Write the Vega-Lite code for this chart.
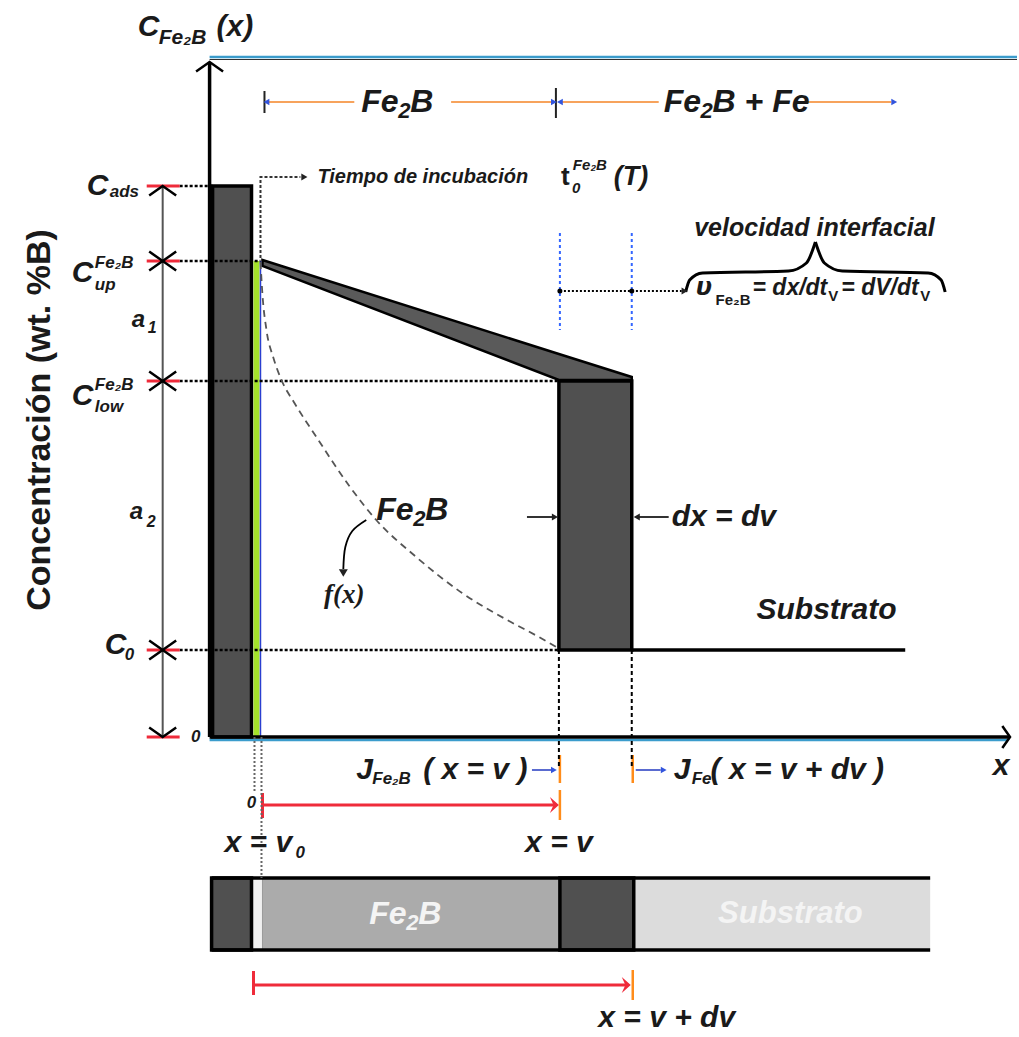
{
  "$schema": "https://vega.github.io/schema/vega-lite/v6.json",
  "width": 1019,
  "height": 1037,
  "padding": 0,
  "autosize": {"type": "fit", "contains": "padding"},
  "background": "white",
  "config": {"view": {"stroke": null}},
  "datasets": {
    "barLight": [{"x": 425, "y": -141, "x2": 722, "y2": -213}],
    "barStrip": [{"x": 42, "y": -141, "x2": 53, "y2": -213}],
    "barGray": [{"x": 53, "y": -141, "x2": 351, "y2": -213}],
    "dark": [
      {"x": 3, "y": 0, "x2": 42, "y2": 551},
      {"x": 350, "y": 87, "x2": 423, "y2": 356},
      {"x": 2, "y": -141, "x2": 42, "y2": -213},
      {"x": 351, "y": -141, "x2": 425, "y2": -213}
    ],
    "green": [{"x": 44, "y": 0, "x2": 50, "y2": 476}],
    "band": [
      {"x": 53, "y": 477, "y2": 471},
      {"x": 350, "y": 383, "y2": 357},
      {"x": 423, "y": 360, "y2": 357}
    ],
    "blueLine": [{"x": 51, "y": 0, "x2": 51, "y2": 476}],
    "dottedH": [
      {"x": -30, "y": 551, "x2": 3, "y2": 551},
      {"x": -30, "y": 476, "x2": 51, "y2": 476},
      {"x": -30, "y": 356, "x2": 350, "y2": 356},
      {"x": -30, "y": 87, "x2": 350, "y2": 87}
    ],
    "teal": [
      {"x": 0, "y": 680, "x2": 809, "y2": 680},
      {"x": 0, "y": -3, "x2": 800, "y2": -3}
    ],
    "thinBlack": [{"x": 0, "y": 677.5, "x2": 809, "y2": 677.5}],
    "axes": [
      {"x": 0, "y": 0, "x2": 0, "y2": 675},
      {"x": 0, "y": 0, "x2": 802, "y2": 0},
      {"x": 423, "y": 87, "x2": 697, "y2": 87},
      {"x": 2, "y": -141, "x2": 722, "y2": -141},
      {"x": 2, "y": -213, "x2": 722, "y2": -213}
    ],
    "red": [
      {"x": -63, "y": 551, "x2": -30, "y2": 551},
      {"x": -63, "y": 476, "x2": -30, "y2": 476},
      {"x": -63, "y": 356, "x2": -30, "y2": 356},
      {"x": -63, "y": 87, "x2": -30, "y2": 87},
      {"x": -63, "y": 0, "x2": -30, "y2": 0},
      {"x": 53, "y": -68, "x2": 345, "y2": -68},
      {"x": 53, "y": -56, "x2": 53, "y2": -81},
      {"x": 44, "y": -248, "x2": 418, "y2": -248},
      {"x": 44, "y": -234, "x2": 44, "y2": -258}
    ],
    "orangeTicks": [
      {"x": 351, "y": -18, "x2": 351, "y2": -46},
      {"x": 424, "y": -18, "x2": 424, "y2": -46},
      {"x": 351, "y": -53, "x2": 351, "y2": -83},
      {"x": 424, "y": -233, "x2": 424, "y2": -263}
    ],
    "orangeTop": [
      {"x": 58, "y": 635, "x2": 145, "y2": 635},
      {"x": 242, "y": 635, "x2": 344, "y2": 635},
      {"x": 352, "y": 635, "x2": 450, "y2": 635},
      {"x": 598, "y": 635, "x2": 683, "y2": 635}
    ],
    "blackTicks": [
      {"x": 55, "y": 646, "x2": 55, "y2": 624},
      {"x": 347, "y": 649, "x2": 347, "y2": 619}
    ],
    "dim": [{"x": -47, "y": 0, "x2": -47, "y2": 551}],
    "dashedV": [
      {"x": 350, "y": 87, "x2": 350, "y2": -30},
      {"x": 423, "y": 87, "x2": 423, "y2": -30}
    ],
    "grayDotV": [
      {"x": 45, "y": 0, "x2": 45, "y2": -55},
      {"x": 52, "y": 0, "x2": 52, "y2": -141}
    ],
    "blueDot": [
      {"x": 351, "y": 504, "x2": 351, "y2": 407},
      {"x": 423, "y": 504, "x2": 423, "y2": 407}
    ],
    "blackDotArrow": [{"x": 351, "y": 446, "x2": 473, "y2": 446}],
    "grayArrows": [
      {"x": 318, "y": 220, "x2": 344, "y2": 220},
      {"x": 460, "y": 220, "x2": 430, "y2": 220}
    ],
    "blueArrows": [
      {"x": 323, "y": -33, "x2": 343, "y2": -33},
      {"x": 427, "y": -33, "x2": 452, "y2": -33}
    ],
    "curve": [
      {"x": 51, "y": 475}, {"x": 53, "y": 442}, {"x": 57, "y": 407},
      {"x": 64, "y": 379}, {"x": 72, "y": 357}, {"x": 85, "y": 334},
      {"x": 107, "y": 300}, {"x": 140, "y": 251}, {"x": 167, "y": 217},
      {"x": 207, "y": 180}, {"x": 253, "y": 144}, {"x": 300, "y": 116},
      {"x": 330, "y": 100}, {"x": 349, "y": 89}
    ],
    "tiempoPath": [
      {"o": 1, "x": 51, "y": 479},
      {"o": 2, "x": 51, "y": 560},
      {"o": 3, "x": 91, "y": 560}
    ],
    "brace": [
      {"g": "L", "o": 1, "x": 477, "y": 445},
      {"g": "L", "o": 2, "x": 481, "y": 457},
      {"g": "L", "o": 3, "x": 494, "y": 464},
      {"g": "L", "o": 4, "x": 580, "y": 466},
      {"g": "L", "o": 5, "x": 598, "y": 474},
      {"g": "L", "o": 6, "x": 607, "y": 495},
      {"g": "R", "o": 1, "x": 607, "y": 495},
      {"g": "R", "o": 2, "x": 616, "y": 474},
      {"g": "R", "o": 3, "x": 634, "y": 466},
      {"g": "R", "o": 4, "x": 720, "y": 464},
      {"g": "R", "o": 5, "x": 733, "y": 457},
      {"g": "R", "o": 6, "x": 737, "y": 445}
    ],
    "fxArrow": [
      {"o": 1, "x": 157, "y": 217},
      {"o": 2, "x": 143, "y": 206},
      {"o": 3, "x": 136, "y": 190},
      {"o": 4, "x": 134, "y": 168}
    ],
    "chevUp": [
      {"x": -47, "y": 551}, {"x": -47, "y": 476}, {"x": -47, "y": 356},
      {"x": -47, "y": 87}, {"x": 0, "y": 675}
    ],
    "chevDown": [
      {"x": -47, "y": 476}, {"x": -47, "y": 356}, {"x": -47, "y": 87}, {"x": -47, "y": 0}
    ],
    "chevRight": [{"x": 802, "y": 0}],
    "blueTriR": [{"x": 345, "y": 635}, {"x": 686, "y": 635}, {"x": 345, "y": -33}, {"x": 455, "y": -33}],
    "blueTriL": [{"x": 57, "y": 635}, {"x": 351, "y": 635}],
    "blackTriR": [{"x": 95, "y": 560}, {"x": 476, "y": 446}, {"x": 346, "y": 220}],
    "blackTriL": [{"x": 428, "y": 220}],
    "blackTriD": [{"x": 134, "y": 164}],
    "redHead": [{"x": 350, "y": -68}, {"x": 422, "y": -248}],
    "dots": [{"x": 351, "y": 446}, {"x": 423, "y": 446}],
    "textL30": [
      {"x": -72, "y": 710, "t": "C"},
      {"x": 7, "y": 710, "t": "(x)"},
      {"x": -123, "y": 551, "t": "C"},
      {"x": -138, "y": 464, "t": "C"},
      {"x": -138, "y": 341, "t": "C"},
      {"x": -105, "y": 92, "t": "C"},
      {"x": 463, "y": 220, "t": "dx = dv"},
      {"x": 548, "y": 127, "t": "Substrato"},
      {"x": 147, "y": -33, "t": "J"},
      {"x": 214, "y": -33, "t": "( x = v )"},
      {"x": 465, "y": -33, "t": "J"},
      {"x": 502, "y": -33, "t": "( x = v + dv )"},
      {"x": 15, "y": -106, "t": "x = v"}
    ],
    "textC30": [
      {"x": 350, "y": -106, "t": "x = v"},
      {"x": 458, "y": -281, "t": "x = v + dv"},
      {"x": 793, "y": -29, "t": "x"}
    ],
    "feBig": [
      {"x": 152, "y": 635, "t": "Fe"},
      {"x": 201, "y": 635, "t": "B"},
      {"x": 455, "y": 635, "t": "Fe"},
      {"x": 504, "y": 635, "t": "B + Fe"},
      {"x": 167, "y": 227, "t": "Fe"},
      {"x": 216, "y": 227, "t": "B"}
    ],
    "twoBig": [
      {"x": 189, "y": 626, "t": "2"},
      {"x": 492, "y": 626, "t": "2"},
      {"x": 204, "y": 218, "t": "2"}
    ],
    "barFe": [{"x": 160, "y": -177, "t": "Fe"}, {"x": 209, "y": -177, "t": "B"}],
    "barTwo": [{"x": 197, "y": -186, "t": "2"}],
    "titleSub": [{"x": -51, "y": 699, "t": "Fe₂B"}],
    "textSub": [
      {"x": -100, "y": 545, "t": "ads"},
      {"x": -85, "y": 82, "t": "0"},
      {"x": 86, "y": -116, "t": "0"},
      {"x": -115, "y": 474, "t": "Fe₂B"},
      {"x": -115, "y": 452, "t": "up"},
      {"x": -115, "y": 352, "t": "Fe₂B"},
      {"x": -115, "y": 330, "t": "low"},
      {"x": 163, "y": -42, "t": "Fe₂B"},
      {"x": 483, "y": -42, "t": "Fe"}
    ],
    "textA": [{"x": -78, "y": 417, "t": "a"}, {"x": -80, "y": 225, "t": "a"}],
    "textASub": [{"x": -62, "y": 409, "t": "1"}, {"x": -63, "y": 215, "t": "2"}],
    "tiempo": [{"x": 108, "y": 560, "t": "Tiempo de incubación"}],
    "tBig": [{"x": 352, "y": 560, "t": "t"}],
    "tSmall": [{"x": 363, "y": 549, "t": "0"}, {"x": 364, "y": 572, "t": "Fe₂B"}],
    "tT": [{"x": 405, "y": 560, "t": "(T)"}],
    "velocidad": [{"x": 606, "y": 509, "t": "velocidad interfacial"}],
    "upsilon": [{"x": 487, "y": 449, "t": "υ"}],
    "formSub": [{"x": 507, "y": 437, "t": "Fe₂B"}, {"x": 620, "y": 441, "t": "V"}, {"x": 712, "y": 441, "t": "V"}],
    "formMain": [{"x": 544, "y": 449, "t": "= dx/dt"}, {"x": 633, "y": 449, "t": "= dV/dt"}],
    "fx": [{"x": 135, "y": 142, "t": "f(x)"}],
    "zeros": [{"x": -14, "y": 0, "t": "0"}, {"x": 42, "y": -66, "t": "0"}],
    "ytitle": [{"x": -170, "y": 317, "t": "Concentración (wt. %B)"}],
    "barText": [{"x": 582, "y": -177, "t": "Substrato"}]
  },
  "encoding": {
    "x": {"field": "x", "type": "quantitative", "scale": {"domain": [-210, 809], "nice": false, "zero": false}, "axis": null},
    "y": {"field": "y", "type": "quantitative", "scale": {"domain": [-300, 737], "nice": false, "zero": false}, "axis": null}
  },
  "layer": [
    {"data": {"name": "barLight"}, "mark": {"type": "rect", "fill": "#dcdcdc"}, "encoding": {"x2": {"field": "x2"}, "y2": {"field": "y2"}}},
    {"data": {"name": "barStrip"}, "mark": {"type": "rect", "fill": "#f0f0f0", "stroke": "#888", "strokeWidth": 1}, "encoding": {"x2": {"field": "x2"}, "y2": {"field": "y2"}}},
    {"data": {"name": "barGray"}, "mark": {"type": "rect", "fill": "#ababab"}, "encoding": {"x2": {"field": "x2"}, "y2": {"field": "y2"}}},
    {"data": {"name": "dark"}, "mark": {"type": "rect", "fill": "#505050", "stroke": "black", "strokeWidth": 3.5}, "encoding": {"x2": {"field": "x2"}, "y2": {"field": "y2"}}},
    {"data": {"name": "green"}, "mark": {"type": "rect", "fill": "#a4e22a"}, "encoding": {"x2": {"field": "x2"}, "y2": {"field": "y2"}}},
    {"data": {"name": "band"}, "mark": {"type": "area", "fill": "#5a5a5a", "stroke": "black", "strokeWidth": 2.5, "interpolate": "linear"}, "encoding": {"y2": {"field": "y2"}}},
    {"data": {"name": "blueLine"}, "mark": {"type": "rule", "color": "#2a3fd0", "strokeWidth": 1.5}, "encoding": {"x2": {"field": "x2"}, "y2": {"field": "y2"}}},
    {"data": {"name": "dottedH"}, "mark": {"type": "rule", "color": "black", "strokeWidth": 2.5, "strokeDash": [3, 2]}, "encoding": {"x2": {"field": "x2"}, "y2": {"field": "y2"}}},
    {"data": {"name": "teal"}, "mark": {"type": "rule", "color": "#3b9ccc", "strokeWidth": 2.5}, "encoding": {"x2": {"field": "x2"}, "y2": {"field": "y2"}}},
    {"data": {"name": "thinBlack"}, "mark": {"type": "rule", "color": "#333", "strokeWidth": 1.2}, "encoding": {"x2": {"field": "x2"}, "y2": {"field": "y2"}}},
    {"data": {"name": "axes"}, "mark": {"type": "rule", "color": "black", "strokeWidth": 3.5}, "encoding": {"x2": {"field": "x2"}, "y2": {"field": "y2"}}},
    {"data": {"name": "red"}, "mark": {"type": "rule", "color": "#ef2b3a", "strokeWidth": 3}, "encoding": {"x2": {"field": "x2"}, "y2": {"field": "y2"}}},
    {"data": {"name": "orangeTicks"}, "mark": {"type": "rule", "color": "#ff8c1a", "strokeWidth": 2.5}, "encoding": {"x2": {"field": "x2"}, "y2": {"field": "y2"}}},
    {"data": {"name": "orangeTop"}, "mark": {"type": "rule", "color": "#f7a35c", "strokeWidth": 2}, "encoding": {"x2": {"field": "x2"}, "y2": {"field": "y2"}}},
    {"data": {"name": "blackTicks"}, "mark": {"type": "rule", "color": "#222", "strokeWidth": 2}, "encoding": {"x2": {"field": "x2"}, "y2": {"field": "y2"}}},
    {"data": {"name": "dim"}, "mark": {"type": "rule", "color": "#555", "strokeWidth": 2}, "encoding": {"x2": {"field": "x2"}, "y2": {"field": "y2"}}},
    {"data": {"name": "dashedV"}, "mark": {"type": "rule", "color": "black", "strokeWidth": 2, "strokeDash": [4, 3]}, "encoding": {"x2": {"field": "x2"}, "y2": {"field": "y2"}}},
    {"data": {"name": "grayDotV"}, "mark": {"type": "rule", "color": "#666", "strokeWidth": 2, "strokeDash": [2, 2]}, "encoding": {"x2": {"field": "x2"}, "y2": {"field": "y2"}}},
    {"data": {"name": "blueDot"}, "mark": {"type": "rule", "color": "#3366ff", "strokeWidth": 2, "strokeDash": [3, 3]}, "encoding": {"x2": {"field": "x2"}, "y2": {"field": "y2"}}},
    {"data": {"name": "blackDotArrow"}, "mark": {"type": "rule", "color": "black", "strokeWidth": 2, "strokeDash": [2, 2]}, "encoding": {"x2": {"field": "x2"}, "y2": {"field": "y2"}}},
    {"data": {"name": "grayArrows"}, "mark": {"type": "rule", "color": "#333", "strokeWidth": 2}, "encoding": {"x2": {"field": "x2"}, "y2": {"field": "y2"}}},
    {"data": {"name": "blueArrows"}, "mark": {"type": "rule", "color": "#5a6bd0", "strokeWidth": 2}, "encoding": {"x2": {"field": "x2"}, "y2": {"field": "y2"}}},
    {"data": {"name": "curve"}, "mark": {"type": "line", "color": "#555", "strokeWidth": 1.8, "strokeDash": [7, 5], "interpolate": "monotone"}, "encoding": {}},
    {"data": {"name": "tiempoPath"}, "mark": {"type": "line", "color": "#333", "strokeWidth": 2, "strokeDash": [3, 2]}, "encoding": {"order": {"field": "o"}}},
    {"data": {"name": "brace"}, "mark": {"type": "line", "color": "black", "strokeWidth": 3, "interpolate": "monotone"}, "encoding": {"order": {"field": "o"}, "detail": {"field": "g"}}},
    {"data": {"name": "fxArrow"}, "mark": {"type": "line", "color": "black", "strokeWidth": 1.8, "interpolate": "cardinal"}, "encoding": {"order": {"field": "o"}}},
    {"data": {"name": "chevUp"}, "mark": {"type": "point", "shape": "M-1,0.7L0,0L1,0.7", "size": 729, "filled": false, "color": "black", "strokeWidth": 2.5, "opacity": 1}},
    {"data": {"name": "chevDown"}, "mark": {"type": "point", "shape": "M-1,-0.7L0,0L1,-0.7", "size": 729, "filled": false, "color": "black", "strokeWidth": 2.5, "opacity": 1}},
    {"data": {"name": "chevRight"}, "mark": {"type": "point", "shape": "M-0.7,-1L0,0L-0.7,1", "size": 484, "filled": false, "color": "black", "strokeWidth": 2.5, "opacity": 1}},
    {"data": {"name": "blueTriR"}, "mark": {"type": "point", "shape": "triangle-right", "size": 45, "filled": true, "color": "#3355dd", "opacity": 1}},
    {"data": {"name": "blueTriL"}, "mark": {"type": "point", "shape": "triangle-left", "size": 45, "filled": true, "color": "#3355dd", "opacity": 1}},
    {"data": {"name": "blackTriR"}, "mark": {"type": "point", "shape": "triangle-right", "size": 50, "filled": true, "color": "#222", "opacity": 1}},
    {"data": {"name": "blackTriL"}, "mark": {"type": "point", "shape": "triangle-left", "size": 50, "filled": true, "color": "#222", "opacity": 1}},
    {"data": {"name": "blackTriD"}, "mark": {"type": "point", "shape": "triangle-down", "size": 80, "filled": true, "color": "#222", "opacity": 1}},
    {"data": {"name": "redHead"}, "mark": {"type": "point", "shape": "M-1,-0.9L0,0L-1,0.9L-0.6,0Z", "size": 324, "filled": true, "color": "#ef2b3a", "opacity": 1}},
    {"data": {"name": "dots"}, "mark": {"type": "point", "shape": "circle", "size": 25, "filled": true, "color": "black", "opacity": 1}},
    {"data": {"name": "textL30"}, "mark": {"type": "text", "align": "left", "baseline": "middle", "font": "Liberation Sans", "fontSize": 30, "fontWeight": "bold", "fontStyle": "italic", "color": "#1a1a1a"}, "encoding": {"text": {"field": "t"}}},
    {"data": {"name": "textC30"}, "mark": {"type": "text", "align": "center", "baseline": "middle", "font": "Liberation Sans", "fontSize": 30, "fontWeight": "bold", "fontStyle": "italic", "color": "#1a1a1a"}, "encoding": {"text": {"field": "t"}}},
    {"data": {"name": "feBig"}, "mark": {"type": "text", "align": "left", "baseline": "middle", "font": "Liberation Sans", "fontSize": 32, "fontWeight": "bold", "fontStyle": "italic", "color": "#1a1a1a"}, "encoding": {"text": {"field": "t"}}},
    {"data": {"name": "twoBig"}, "mark": {"type": "text", "align": "left", "baseline": "middle", "font": "Liberation Sans", "fontSize": 22, "fontWeight": "bold", "fontStyle": "italic", "color": "#1a1a1a"}, "encoding": {"text": {"field": "t"}}},
    {"data": {"name": "barFe"}, "mark": {"type": "text", "align": "left", "baseline": "middle", "font": "Liberation Sans", "fontSize": 32, "fontWeight": "bold", "fontStyle": "italic", "color": "#f4f4f4"}, "encoding": {"text": {"field": "t"}}},
    {"data": {"name": "barTwo"}, "mark": {"type": "text", "align": "left", "baseline": "middle", "font": "Liberation Sans", "fontSize": 22, "fontWeight": "bold", "fontStyle": "italic", "color": "#f4f4f4"}, "encoding": {"text": {"field": "t"}}},
    {"data": {"name": "titleSub"}, "mark": {"type": "text", "align": "left", "baseline": "middle", "font": "Liberation Sans", "fontSize": 21, "fontWeight": "bold", "fontStyle": "italic", "color": "#1a1a1a"}, "encoding": {"text": {"field": "t"}}},
    {"data": {"name": "textSub"}, "mark": {"type": "text", "align": "left", "baseline": "middle", "font": "Liberation Sans", "fontSize": 17, "fontWeight": "bold", "fontStyle": "italic", "color": "#1a1a1a"}, "encoding": {"text": {"field": "t"}}},
    {"data": {"name": "textA"}, "mark": {"type": "text", "align": "left", "baseline": "middle", "font": "Liberation Sans", "fontSize": 24, "fontWeight": "bold", "fontStyle": "italic", "color": "#1a1a1a"}, "encoding": {"text": {"field": "t"}}},
    {"data": {"name": "textASub"}, "mark": {"type": "text", "align": "left", "baseline": "middle", "font": "Liberation Sans", "fontSize": 16, "fontWeight": "bold", "fontStyle": "italic", "color": "#1a1a1a"}, "encoding": {"text": {"field": "t"}}},
    {"data": {"name": "tiempo"}, "mark": {"type": "text", "align": "left", "baseline": "middle", "font": "Liberation Sans", "fontSize": 20, "fontWeight": "bold", "fontStyle": "italic", "color": "#1a1a1a"}, "encoding": {"text": {"field": "t"}}},
    {"data": {"name": "tBig"}, "mark": {"type": "text", "align": "left", "baseline": "middle", "font": "Liberation Sans", "fontSize": 26, "fontWeight": "bold", "color": "#1a1a1a"}, "encoding": {"text": {"field": "t"}}},
    {"data": {"name": "tSmall"}, "mark": {"type": "text", "align": "left", "baseline": "middle", "font": "Liberation Sans", "fontSize": 15, "fontWeight": "bold", "fontStyle": "italic", "color": "#1a1a1a"}, "encoding": {"text": {"field": "t"}}},
    {"data": {"name": "tT"}, "mark": {"type": "text", "align": "left", "baseline": "middle", "font": "Liberation Sans", "fontSize": 27, "fontWeight": "bold", "fontStyle": "italic", "color": "#1a1a1a"}, "encoding": {"text": {"field": "t"}}},
    {"data": {"name": "velocidad"}, "mark": {"type": "text", "align": "center", "baseline": "middle", "font": "Liberation Sans", "fontSize": 25, "fontWeight": "bold", "fontStyle": "italic", "color": "#1a1a1a"}, "encoding": {"text": {"field": "t"}}},
    {"data": {"name": "upsilon"}, "mark": {"type": "text", "align": "left", "baseline": "middle", "font": "DejaVu Sans", "fontSize": 24, "fontWeight": "bold", "fontStyle": "italic", "color": "#1a1a1a"}, "encoding": {"text": {"field": "t"}}},
    {"data": {"name": "formSub"}, "mark": {"type": "text", "align": "left", "baseline": "middle", "font": "Liberation Sans", "fontSize": 15, "fontWeight": "bold", "color": "#1a1a1a"}, "encoding": {"text": {"field": "t"}}},
    {"data": {"name": "formMain"}, "mark": {"type": "text", "align": "left", "baseline": "middle", "font": "Liberation Sans", "fontSize": 23, "fontWeight": "bold", "fontStyle": "italic", "color": "#1a1a1a"}, "encoding": {"text": {"field": "t"}}},
    {"data": {"name": "fx"}, "mark": {"type": "text", "align": "center", "baseline": "middle", "font": "Liberation Serif", "fontSize": 27, "fontWeight": "bold", "fontStyle": "italic", "color": "#1a1a1a"}, "encoding": {"text": {"field": "t"}}},
    {"data": {"name": "zeros"}, "mark": {"type": "text", "align": "center", "baseline": "middle", "font": "Liberation Sans", "fontSize": 17, "fontWeight": "bold", "fontStyle": "italic", "color": "#1a1a1a"}, "encoding": {"text": {"field": "t"}}},
    {"data": {"name": "ytitle"}, "mark": {"type": "text", "align": "center", "baseline": "middle", "angle": 270, "font": "Liberation Sans", "fontSize": 34, "fontWeight": "bold", "color": "#1a1a1a"}, "encoding": {"text": {"field": "t"}}},
    {"data": {"name": "barText"}, "mark": {"type": "text", "align": "center", "baseline": "middle", "font": "Liberation Sans", "fontSize": 31, "fontWeight": "bold", "fontStyle": "italic", "color": "#f4f4f4"}, "encoding": {"text": {"field": "t"}}}
  ]
}
